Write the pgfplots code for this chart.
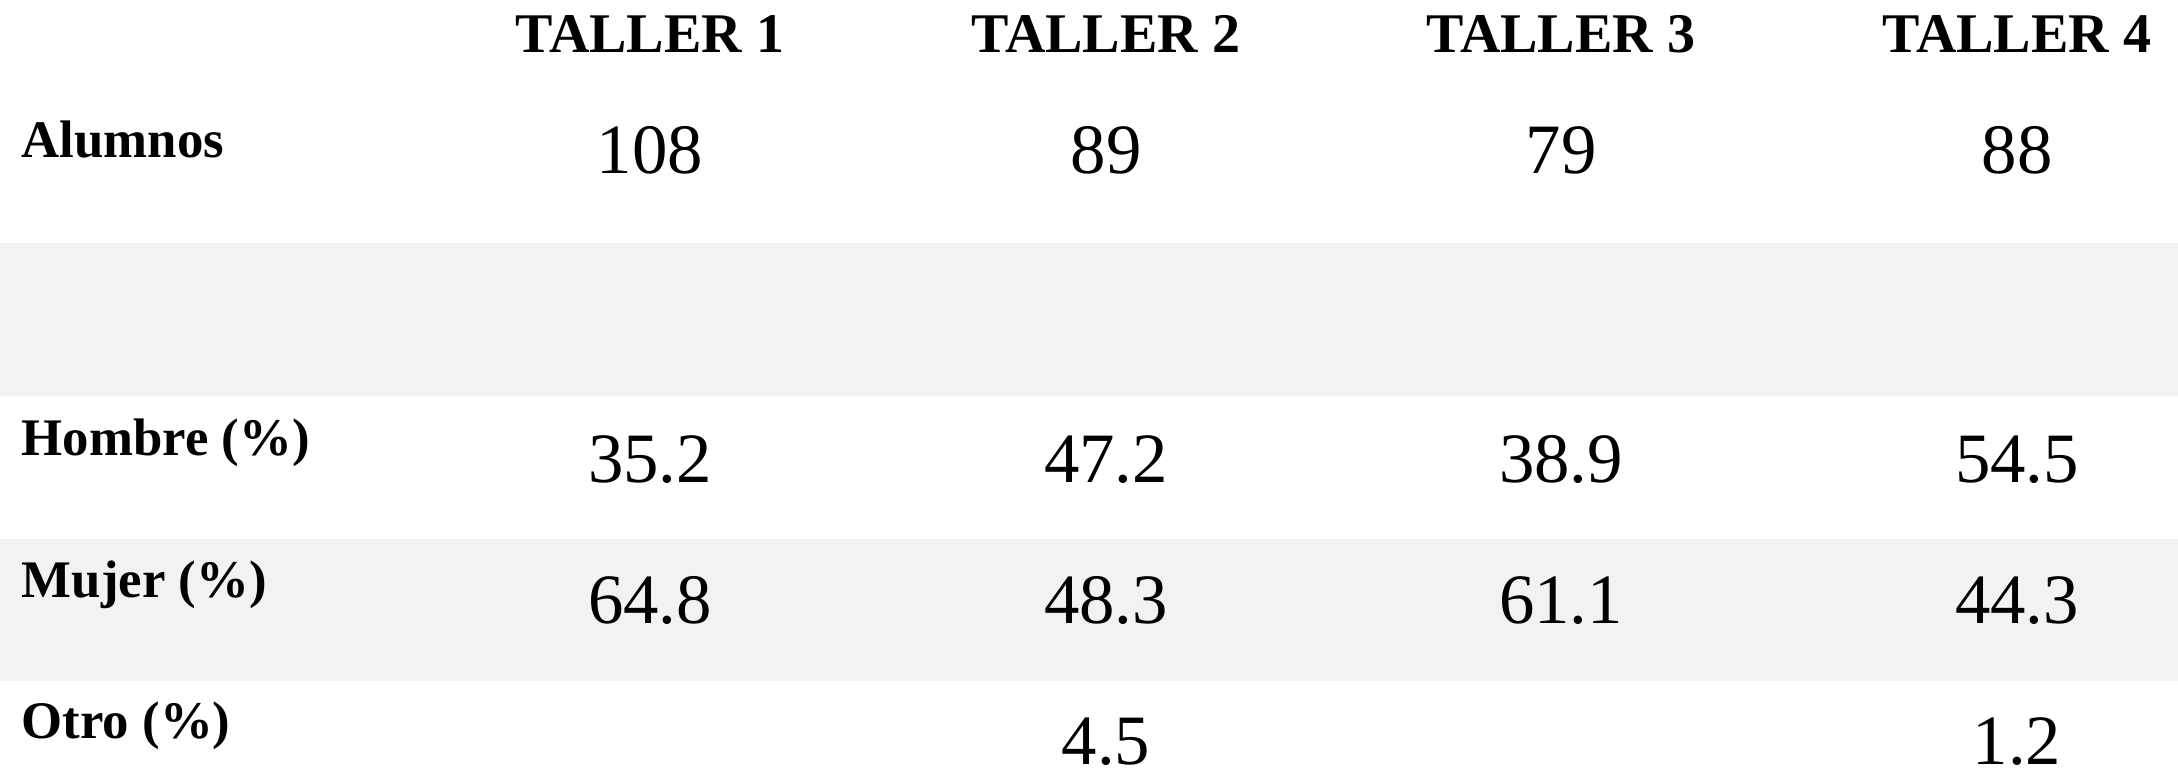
\documentclass[border=0pt]{standalone}
\usepackage{pgfplots}
\pgfplotsset{compat=1.18}
\usepackage{fontspec}
\setmainfont{Liberation Serif}
\definecolor{band}{HTML}{F2F2F2}
\begin{document}
\begin{tikzpicture}
\begin{axis}[
  width=544.5pt, height=193pt, scale only axis,
  xmin=0, xmax=2178, ymin=0, ymax=772, y dir=reverse,
  axis line style={draw=none}, ticks=none, clip=false,
  point meta=explicit symbolic,
]
% invisible frame so the picture keeps the full size
\addplot[draw=none, mark=none] coordinates {(0,0) (2178,772)};
% grey bands
\addplot[fill=band, draw=none] coordinates {(0,243) (2178,243) (2178,396) (0,396)} -- cycle;
\addplot[fill=band, draw=none] coordinates {(0,539) (2178,539) (2178,681) (0,681)} -- cycle;
% column headers
\addplot[draw=none, mark=none, nodes near coords,
  nodes near coords style={anchor=base, inner sep=0pt, font=\fontsize{14pt}{16pt}\selectfont\bfseries}]
  coordinates {(650,52)[TALLER 1] (1106,52)[TALLER 2] (1561,52)[TALLER 3] (2017,52)[TALLER 4]};
% row labels
\addplot[draw=none, mark=none, nodes near coords,
  nodes near coords style={anchor=base west, inner sep=0pt, font=\fontsize{13.2pt}{15pt}\selectfont\bfseries}]
  coordinates {(21,157)[Alumnos] (21,455)[Hombre (\%)] (21,597)[Mujer (\%)] (21,738)[Otro (\%)]};
% values
\addplot[draw=none, mark=none, nodes near coords,
  nodes near coords style={anchor=base, inner sep=0pt, font=\fontsize{17.7pt}{20pt}\selectfont}]
  coordinates {
    (650,173)[108] (1106,173)[89] (1561,173)[79] (2017,173)[88]
    (650,482)[35.2] (1106,482)[47.2] (1561,482)[38.9] (2017,482)[54.5]
    (650,623)[64.8] (1106,623)[48.3] (1561,623)[61.1] (2017,623)[44.3]
    (1106,764)[4.5] (2017,764)[1.2]
  };
\end{axis}
\end{tikzpicture}
\end{document}
